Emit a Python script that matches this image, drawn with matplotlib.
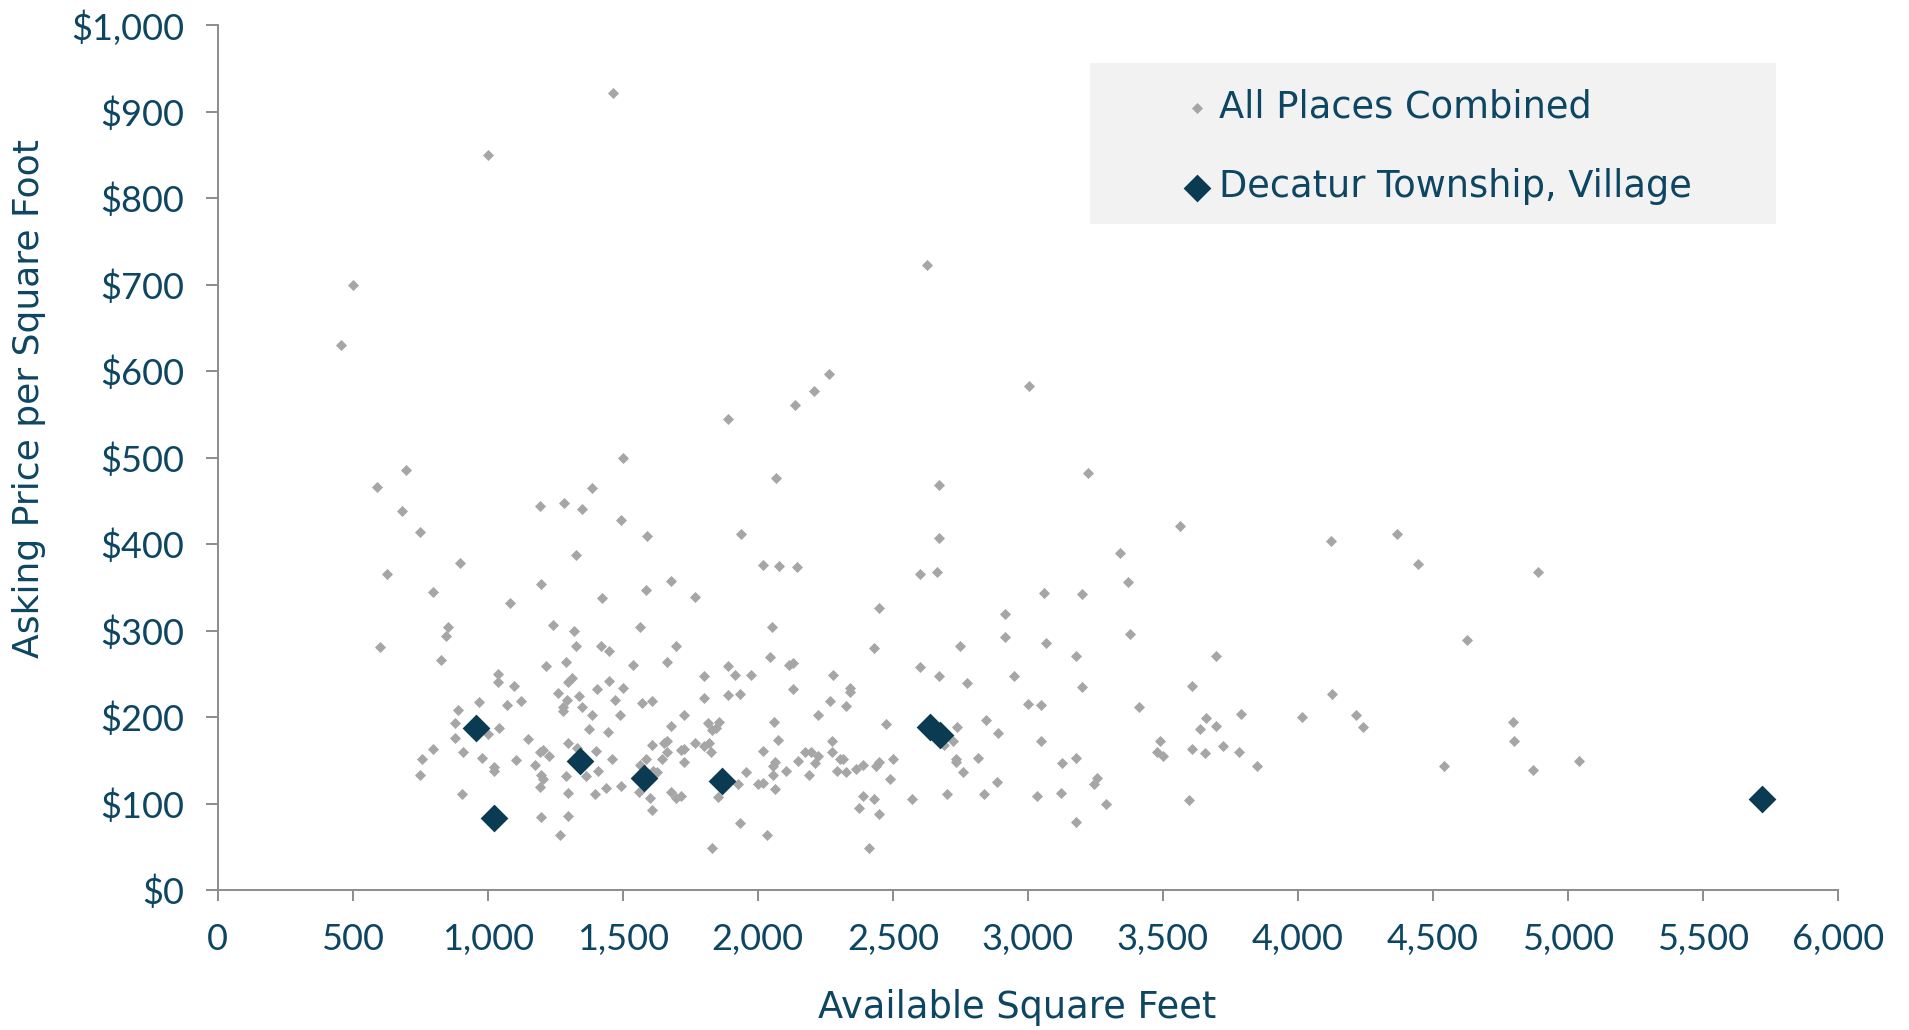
import matplotlib.pyplot as plt
from matplotlib.patches import Rectangle
from matplotlib.ticker import FuncFormatter

# All Places Combined: (available sq ft, asking price per sq ft)
all_sqft = [
    1463, 1000, 500, 458, 2628, 2264, 2209, 2139, 1888, 3004,
    589, 699, 684, 748, 628, 602, 899, 797, 1084, 853, 847, 828,
    1194, 1284, 1349, 1387, 1499, 1495, 1589, 1328, 1199, 1678, 1585,
    1423, 1243, 1319, 1564, 1328, 1418, 1449, 1697, 1664, 1538, 1215,
    1289, 1038, 1039, 1097, 1259, 1296, 1311, 1449, 1502, 1404, 1293,
    1338, 1473, 1573, 1608, 969, 1073, 1123, 889, 1279, 1279, 1350,
    1387, 1489, 880, 1000, 1043, 880, 1374, 1444, 1678, 1149, 797, 909,
    758, 979, 1299, 1193, 1205, 1228, 1332, 1400, 1105, 1174, 1459,
    1585, 1610, 1653, 1663, 1663, 1644, 748, 1022, 1022, 1196, 1206,
    1195, 1289, 1363, 1410, 1564, 1613, 1626, 1495, 1439, 1297, 1398,
    1560, 1600, 1610, 1679, 1697, 904, 1199, 1297, 1268,
    2069, 2670, 3221, 1938, 2670, 2019, 2080, 2144, 2600, 2665, 3341,
    3370, 1769, 2450, 3060, 3200, 2915, 2915, 3380, 3069, 3180, 2750,
    2431, 2054, 1799, 1890, 1915, 1974, 1799, 1890, 1934, 2044, 2115,
    2130, 2130, 2279, 2342, 2342, 2269, 2326, 2599, 2670, 2775, 2950,
    3000, 3050, 3200, 3411, 1728, 1815, 1857, 1846, 1830, 2059, 2224,
    2475, 2736, 2845, 2890, 3050, 2721, 1769, 1821, 1828, 1802, 1728,
    1715, 2075, 2019, 2274, 2274, 2305, 2317, 2175, 2196, 2224, 2210,
    2150, 2064, 2058, 2058, 2104, 1957, 1925, 1728, 2002, 2019, 2064,
    2190, 2295, 2326, 2363, 2391, 2439, 2447, 2501, 2489, 2390, 2432,
    2374, 2450, 2410, 2570, 2701, 2734, 2734, 2759, 2689, 2815, 2885,
    2839, 3035, 3121, 3126, 3180, 3257, 3245, 3291, 3180, 1934, 2033,
    1830, 1854, 1716,
    3565, 3695, 3606, 3490, 3478, 3500, 3606, 3660, 3639, 3695, 3655,
    3724, 3790, 3781, 3847, 3595, 4121, 4367, 4446, 4888, 4626, 4126,
    4015, 4216, 4242, 4797, 4801, 4541, 4872, 5042,
]
all_price = [
    921, 850, 700, 630, 722, 596, 577, 561, 545, 583,
    466, 486, 438, 414, 365, 281, 378, 344, 332, 304, 294, 266,
    444, 447, 441, 465, 500, 428, 409, 387, 354, 357, 347,
    337, 306, 299, 304, 282, 282, 276, 282, 264, 260, 259,
    264, 250, 240, 236, 228, 241, 245, 242, 233, 232, 220,
    224, 220, 216, 218, 217, 214, 218, 208, 212, 207, 212,
    202, 202, 193, 180, 187, 176, 186, 183, 190, 174, 163, 159,
    151, 153, 170, 160, 162, 155, 164, 161, 150, 145, 151,
    151, 168, 170, 172, 159, 152, 133, 142, 137, 133, 128,
    119, 132, 132, 138, 145, 138, 136, 120, 118, 112, 111,
    113, 106, 93, 113, 106, 111, 84, 85, 64,
    476, 468, 482, 412, 407, 376, 375, 373, 365, 368, 390,
    356, 339, 326, 343, 342, 319, 292, 296, 285, 271, 282,
    280, 304, 247, 259, 248, 248, 222, 225, 227, 269, 260,
    263, 232, 248, 234, 229, 218, 213, 258, 247, 239, 247,
    215, 214, 235, 212, 202, 193, 194, 187, 185, 194, 202,
    192, 188, 197, 182, 172, 172, 170, 170, 159, 166, 163,
    162, 173, 161, 172, 159, 152, 151, 159, 160, 155, 147,
    149, 148, 143, 133, 138, 136, 122, 148, 123, 124, 117,
    133, 138, 136, 140, 145, 143, 148, 152, 128, 109, 105,
    95, 88, 49, 105, 111, 151, 148, 136, 168, 153, 125,
    111, 109, 112, 147, 153, 130, 122, 99, 79, 78, 64,
    49, 108, 109,
    421, 271, 236, 172, 159, 155, 163, 199, 186, 190, 158,
    167, 204, 159, 143, 104, 403, 412, 377, 368, 289, 227,
    200, 202, 189, 194, 172, 143, 139, 149,
]

# Decatur Township, Village
dec_sqft = [957, 1022, 1343, 1578, 1869, 2638, 2675, 5719]
dec_price = [187, 83, 149, 130, 126, 189, 179, 105]

x_ticks = list(range(0, 6001, 500))
y_ticks = list(range(0, 1001, 100))

text_color = '#0C4662'
dark = '#0A3B53'
gray = '#A6A6A6'
axis_gray = '#8C8C8C'

plt.rcParams['font.family'] = ['Lato', 'DejaVu Sans']
label_font = ['DejaVu Sans']

fig = plt.figure(figsize=(19.09, 10.30), dpi=100)
ax = fig.add_axes([217.7 / 1909, 140 / 1030, (1838 - 217.7) / 1909, 865 / 1030])

ax.scatter(all_sqft, all_price, marker='D', s=32, color=gray, linewidths=0,
           label='All Places Combined', zorder=2)
ax.scatter(dec_sqft, dec_price, marker='D', s=200, color=dark, linewidths=0,
           label='Decatur Township, Village', zorder=3)

ax.set_xlim(0, 6000)
ax.set_ylim(0, 1000)
ax.set_xticks(x_ticks)
ax.set_yticks(y_ticks)
ax.xaxis.set_major_formatter(FuncFormatter(lambda v, p: f'{v:,.0f}'))
ax.yaxis.set_major_formatter(FuncFormatter(lambda v, p: f'${v:,.0f}'))

for side in ['top', 'right']:
    ax.spines[side].set_visible(False)
for side in ['left', 'bottom']:
    ax.spines[side].set_color(axis_gray)
    ax.spines[side].set_linewidth(1.4)

ax.tick_params(axis='y', direction='out', length=9, width=1.4, color=axis_gray,
               labelsize=26, labelcolor=text_color, pad=15)
ax.tick_params(axis='x', direction='out', length=8, width=1.4, color=axis_gray,
               labelsize=26, labelcolor=text_color, pad=16)

fig.text(1017 / 1909, 1 - 1008 / 1030, 'Available Square Feet', fontsize=26.5,
         family=label_font, color=text_color, ha='center', va='center')
fig.text(29 / 1909, 1 - 398 / 1030, 'Asking Price per Square Foot', fontsize=26,
         family=label_font, color=text_color, ha='center', va='center', rotation=90)

# legend background box
fig.patches.append(Rectangle((1090 / 1909, 1 - 224 / 1030), 686 / 1909, 161 / 1030,
                             transform=fig.transFigure, facecolor='#F2F2F2',
                             edgecolor='none', zorder=0))
leg = fig.legend(loc='upper left', bbox_to_anchor=(1179 / 1909, 1 - 89 / 1030),
                 frameon=False, prop={'family': label_font, 'size': 26.5},
                 handlelength=1.0, handletextpad=0.1, labelspacing=1.15,
                 borderpad=0, borderaxespad=0)
for t in leg.get_texts():
    t.set_color(text_color)

fig.savefig('out.png', dpi=100)
